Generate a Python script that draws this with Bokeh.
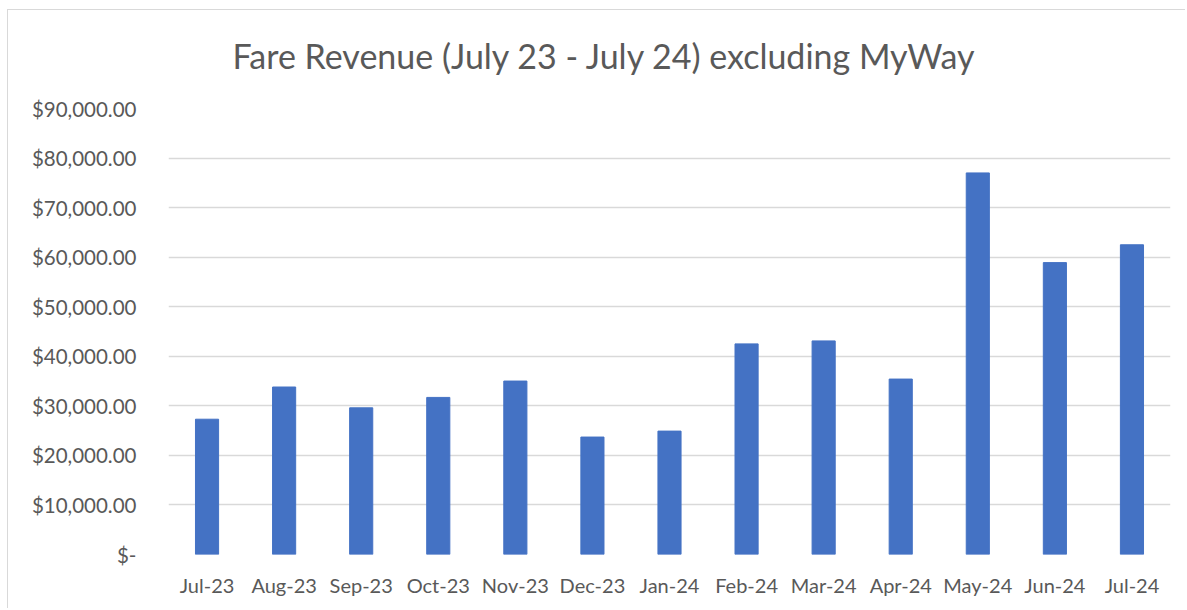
from bokeh.plotting import figure
from bokeh.models import FixedTicker, CustomJSTickFormatter, Range1d, FactorRange, Title
from bokeh.embed import file_html
from bokeh.resources import INLINE

months = ["Jul-23", "Aug-23", "Sep-23", "Oct-23", "Nov-23", "Dec-23", "Jan-24",
          "Feb-24", "Mar-24", "Apr-24", "May-24", "Jun-24", "Jul-24"]
revenue = [27300, 33800, 29600, 31700, 35000, 23700, 24900,
           42500, 43100, 35400, 77000, 58900, 62500]
y_ticks = [0, 10000, 20000, 30000, 40000, 50000, 60000, 70000, 80000, 90000]
title_text = "Fare Revenue (July 23 - July 24) excluding MyWay"

FONT = "Lato"
GREY = "#595959"

p = figure(x_range=FactorRange(*months), y_range=Range1d(0, 90000),
           width=1178, height=599, output_backend="svg", toolbar_location=None,
           min_border_left=160, min_border_right=16, min_border_top=98, min_border_bottom=55,
           title=None)
p.styles = {"border-left": "1px solid #d9d9d9", "border-top": "1px solid #d9d9d9",
            "margin-left": "7px", "margin-top": "9px"}

p.vbar(x=months, top=revenue, width=0.3, color="#4472C4")

# spacer between frame and title
spacer = Title(text=" ", text_font=FONT, text_font_size="1px", standoff=30)
p.add_layout(spacer, "above")

main_title = Title(text=title_text, align="left", offset=64, text_font=FONT,
                   text_font_size="34px", text_font_style="normal",
                   text_color=GREY, standoff=0)
p.add_layout(main_title, "above")

p.outline_line_color = None
p.xgrid.grid_line_color = None
p.ygrid.grid_line_color = "#d9d9d9"
p.ygrid.grid_line_width = 1.5

p.yaxis.ticker = FixedTicker(ticks=y_ticks)
p.yaxis.formatter = CustomJSTickFormatter(code="""
if (tick == 0) { return "$-"; }
return "$" + (tick / 1000).toFixed(0) + ",000.00";
""")
for ax in (p.xaxis, p.yaxis):
    ax.axis_line_color = None
    ax.major_tick_line_color = None
    ax.minor_tick_line_color = None
    ax.major_tick_in = 0
    ax.major_tick_out = 0
    ax.major_label_text_font = FONT
    ax.major_label_text_color = GREY

p.yaxis.major_label_text_font_size = "20.5px"
p.yaxis.major_label_standoff = 32
p.xaxis.major_label_text_font_size = "20px"
p.xaxis.major_label_standoff = 18

open("out.html", "w").write(file_html(p, INLINE))
